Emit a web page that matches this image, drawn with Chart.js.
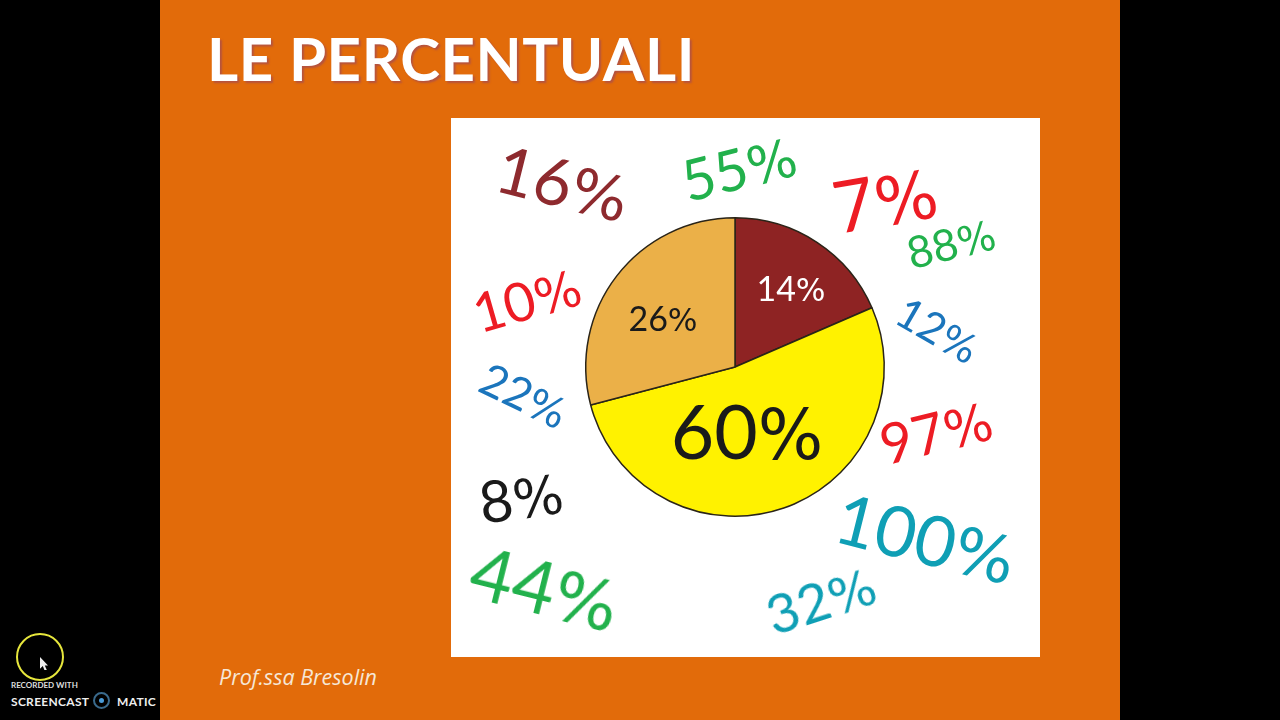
<!DOCTYPE html>
<html>
<head>
<meta charset="utf-8">
<style>
    html, body { margin: 0; padding: 0; background: #000; width: 1280px; height: 720px; overflow: hidden; }
    #slide { position: absolute; left: 160px; top: 0; width: 960px; height: 720px; background: #e26b0a; }
    #title { position: absolute; left: 207px; top: 22px; font: bold 60px Lato, sans-serif; letter-spacing: 0.55px; color: #fff; text-shadow: 2px 2px 2px #b5533f; white-space: nowrap; }
    #card { position: absolute; left: 451px; top: 118px; width: 589px; height: 539px; background: #fff; }
    #chartBox { position: absolute; left: 575px; top: 207px; width: 320px; height: 320px; }
    #author { position: absolute; left: 219px; top: 662px; font: italic 21.5px "Open Sans", sans-serif; color: #f6e7d6; white-space: nowrap; }
    .perc { position: absolute; font-family: Lato, sans-serif; white-space: nowrap; line-height: 1; }
    .perc span { font-family: "DejaVu Sans", sans-serif; font-size: 0.92em; }
    #ring { position: absolute; left: 16px; top: 633px; width: 44px; height: 44px; border: 2px solid #e6e63c; border-radius: 50%; }
    #cursor { position: absolute; left: 40px; top: 657px; width: 8px; height: 13px; background: #eee; clip-path: polygon(0 0, 100% 65%, 60% 65%, 85% 100%, 55% 100%, 35% 70%, 0 90%); }
    #rec { position: absolute; left: 11px; top: 680px; font: bold 8px Lato, sans-serif; color: #ddd; white-space: nowrap; }
    #sc { position: absolute; left: 11px; top: 694px; font: bold 12px Lato, sans-serif; color: #eee; letter-spacing: 0.3px; white-space: nowrap; }
    #mt { position: absolute; left: 117px; top: 694px; font: bold 12px Lato, sans-serif; color: #eee; letter-spacing: 0.3px; }
    #dot { position: absolute; left: 93px; top: 692px; width: 5px; height: 5px; border: 2px solid #3a6a8c; border-radius: 50%; background: #4a9bd8; background-clip: content-box; padding: 4px; }
</style>
</head>
<body>
<div id="slide"></div>
<div id="title">LE PERCENTUALI</div>
<div id="card"></div>
<div id="chartBox"><canvas id="pie"></canvas></div>
<div id="author">Prof.ssa Bresolin</div>
<div id="ring"></div>
<div id="cursor"></div>
<div id="rec">RECORDED WITH</div>
<div id="sc">SCREENCAST</div>
<div id="dot"></div>
<div id="mt">MATIC</div>

<script src="https://cdn.jsdelivr.net/npm/chart.js@4"></script>
<script>
// Printed numbers of the slices, clockwise from the top
const sliceLabels = ["14", "60", "26"];
// Slice sizes as drawn in the picture (the drawing does not follow its own labels)
const sliceShares = [18.5, 52.4, 29.1];
const sliceColors = ["#8e2323", "#fff200", "#ebb048"];
const labelColors = ["#ffffff", "#1a1a1a", "#1a1a1a"];
const labelSizes = [34, 75, 34];
const labelOffsets = [[56, -78], [12, 65], [-72, -48]];

// Percentages scattered round the pie
const floatValues = ["16", "55", "7", "88", "10", "12", "22", "97", "8", "100", "44", "32"];
const floatColors = ["#8e2a2e", "#22b14c", "#ed1c24", "#22b14c", "#ed1c24", "#1b75bc", "#1b75bc", "#ed1c24", "#1a1a1a", "#0f9fb5", "#22b14c", "#0f9fb5"];
const floatX = [563, 739, 885, 951, 527, 938, 524, 936, 521, 926, 545, 821];
const floatY = [183, 168, 199, 243, 300, 330, 396, 432, 497, 538, 588, 600];
const floatSizes = [66, 57, 72, 44, 54, 43, 45, 56, 58, 70, 74, 55];
const floatAngles = [14, -14, -10, -14, -16, 30, 26, -14, -8, 14, 14, -18];

floatValues.forEach((val, i) => {
    const el = document.createElement("div");
    el.className = "perc";
    el.textContent = val;
    const sign = document.createElement("span");
    sign.textContent = "%";
    el.appendChild(sign);
    el.style.left = floatX[i] + "px";
    el.style.top = floatY[i] + "px";
    el.style.fontSize = floatSizes[i] + "px";
    el.style.color = floatColors[i];
    el.style.transform = "translate(-50%, -50%) rotate(" + floatAngles[i] + "deg)";
    document.body.appendChild(el);
});

// Writes the printed percentages inside the pie, digits and sign in their two fonts
const sliceText = {
    id: "sliceText",
    afterDatasetsDraw(chart) {
        const ctx = chart.ctx;
        const arc = chart.getDatasetMeta(0).data[0];
        ctx.save();
        ctx.textAlign = "left";
        ctx.textBaseline = "alphabetic";
        sliceLabels.forEach((txt, i) => {
            const digitFont = labelSizes[i] + "px Lato, sans-serif";
            const signFont = (labelSizes[i] * 0.92) + "px 'DejaVu Sans', sans-serif";
            ctx.font = digitFont;
            const digitWidth = ctx.measureText(txt).width;
            ctx.font = signFont;
            const signWidth = ctx.measureText("%").width;
            const x = arc.x + labelOffsets[i][0] - (digitWidth + signWidth) / 2;
            const y = arc.y + labelOffsets[i][1] + labelSizes[i] * 0.36;
            ctx.fillStyle = labelColors[i];
            ctx.font = digitFont;
            ctx.fillText(txt, x, y);
            ctx.font = signFont;
            ctx.fillText("%", x + digitWidth, y);
        });
        ctx.restore();
    }
};

new Chart(document.getElementById("pie"), {
    type: "pie",
    data: {
        labels: sliceLabels,
        datasets: [{
            data: sliceShares,
            backgroundColor: sliceColors,
            borderColor: "#2a2418",
            borderWidth: 1.5
        }]
    },
    options: {
        responsive: true,
        maintainAspectRatio: false,
        animation: false,
        layout: { padding: 10 },
        plugins: { legend: { display: false }, tooltip: { enabled: false } }
    },
    plugins: [sliceText]
});
</script>
</body>
</html>
